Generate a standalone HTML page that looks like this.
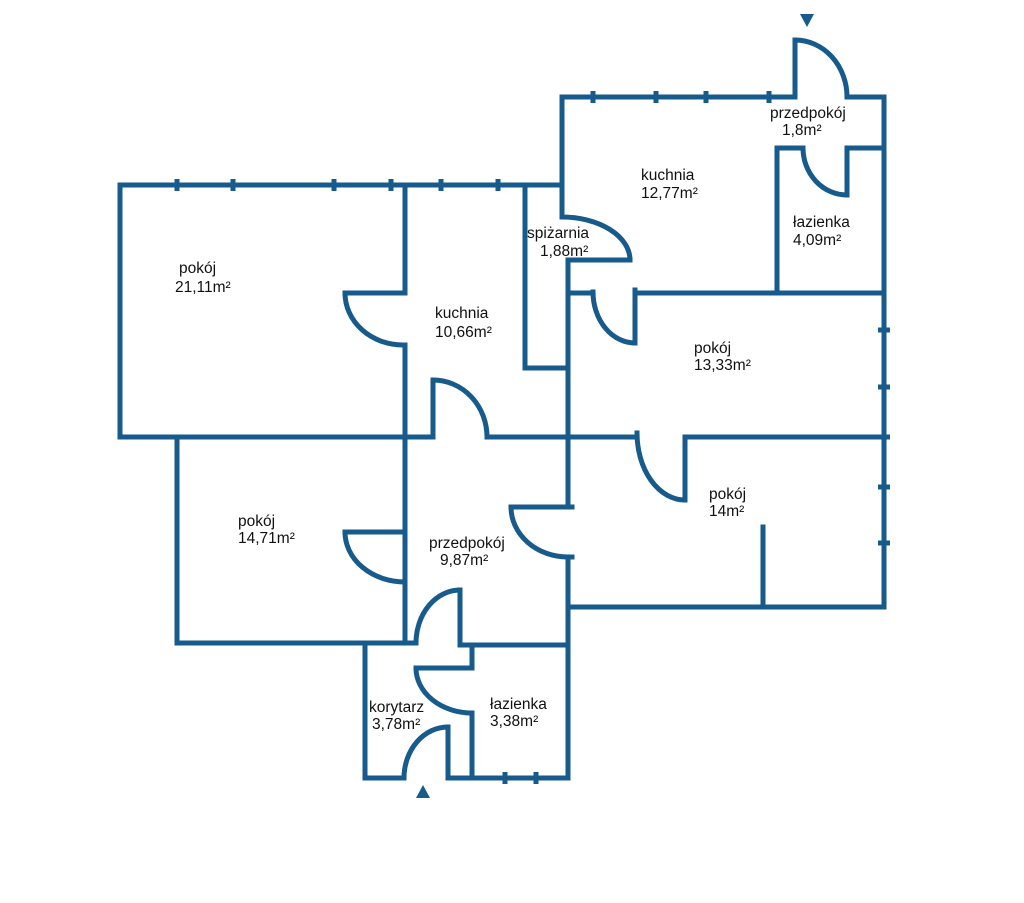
<!DOCTYPE html>
<html><head><meta charset="utf-8"><style>
html,body{margin:0;padding:0;background:#fff;}
svg{display:block}
text{font-family:"Liberation Sans",sans-serif;font-size:15.5px;fill:#111}
</style></head><body>
<svg width="1024" height="903" viewBox="0 0 1024 903" xmlns="http://www.w3.org/2000/svg">
<g fill="none" stroke="#175a8c" stroke-width="5" stroke-linecap="square">
<polyline points="405,292 405,185 120,185 120,437 433,437"/>
<line x1="405" y1="185" x2="560" y2="185"/>
<line x1="405" y1="345" x2="405" y2="643"/>
<line x1="345" y1="293" x2="405" y2="293"/>
<path d="M345,293 A58,52 0 0 0 403,345"/>
<polyline points="525,185 525,368 568,368"/>
<polyline points="562,217 562,97 795,97 795,40"/>
<path d="M795,40 A52,57 0 0 1 847,97"/>
<polyline points="847,97 884,97 884,607 568,607"/>
<path d="M562,217 A68,43 0 0 1 630,260"/>
<line x1="630" y1="260" x2="568" y2="260"/>
<line x1="568" y1="260" x2="568" y2="507"/>
<line x1="568" y1="557" x2="568" y2="778"/>
<polyline points="803,148 777,148 777,293"/>
<line x1="847" y1="148" x2="884" y2="148"/>
<line x1="847" y1="148" x2="847" y2="195"/>
<path d="M803,148 A44,47 0 0 0 847,195"/>
<line x1="568" y1="293" x2="593" y2="293"/>
<path d="M593,292 A42,51 0 0 0 635,343"/>
<line x1="635" y1="343" x2="635" y2="290"/>
<line x1="635" y1="293" x2="884" y2="293"/>
<line x1="433" y1="437" x2="433" y2="380"/>
<path d="M433,380 A54,57 0 0 1 487,437"/>
<line x1="487" y1="437" x2="637" y2="437"/>
<path d="M637,433 A48,67 0 0 0 685,500"/>
<line x1="685" y1="500" x2="685" y2="437"/>
<line x1="685" y1="437" x2="884" y2="437"/>
<line x1="511" y1="507" x2="572" y2="507"/>
<path d="M511,507 A57,50 0 0 0 568,557"/>
<line x1="568" y1="557" x2="572" y2="557"/>
<line x1="763" y1="527" x2="763" y2="607"/>
<polyline points="177,437 177,643 416,643"/>
<line x1="345" y1="532" x2="405" y2="532"/>
<path d="M345,532 A60,50 0 0 0 405,582"/>
<line x1="460" y1="590" x2="460" y2="643"/>
<path d="M416,643 A44,53 0 0 1 460,590"/>
<line x1="460" y1="645" x2="568" y2="645"/>
<polyline points="365,645 365,778 404,778"/>
<path d="M404,778 A44,51 0 0 1 448,727"/>
<line x1="448" y1="727" x2="448" y2="778"/>
<line x1="448" y1="778" x2="568" y2="778"/>
<line x1="472" y1="645" x2="472" y2="668"/>
<line x1="416" y1="668" x2="472" y2="668"/>
<path d="M416,668 A56,45 0 0 0 472,713"/>
<line x1="472" y1="713" x2="472" y2="778"/>
</g>
<g stroke="#175a8c" stroke-width="5">
<line x1="177" y1="179" x2="177" y2="191"/><line x1="233" y1="179" x2="233" y2="191"/>
<line x1="334" y1="179" x2="334" y2="191"/><line x1="391" y1="179" x2="391" y2="191"/>
<line x1="441" y1="179" x2="441" y2="191"/><line x1="498" y1="179" x2="498" y2="191"/>
<line x1="593" y1="91" x2="593" y2="103"/><line x1="656" y1="91" x2="656" y2="103"/>
<line x1="706" y1="91" x2="706" y2="103"/><line x1="769" y1="91" x2="769" y2="103"/>
<line x1="878" y1="330" x2="890" y2="330"/><line x1="878" y1="387" x2="890" y2="387"/>
<line x1="878" y1="437" x2="890" y2="437"/>
<line x1="878" y1="487" x2="890" y2="487"/><line x1="878" y1="543" x2="890" y2="543"/>
<line x1="505" y1="772" x2="505" y2="784"/><line x1="536" y1="772" x2="536" y2="784"/>
</g>
<polygon points="800,14 814,14 807,27" fill="#175a8c"/>
<polygon points="416,798 430,798 423,785" fill="#175a8c"/>
<g>
<text x="179" y="273">pokój</text><text x="175" y="292">21,11m²</text>
<text x="435" y="318">kuchnia</text><text x="435" y="337">10,66m²</text>
<text x="527" y="238">spiżarnia</text><text x="540" y="256">1,88m²</text>
<text x="641" y="180">kuchnia</text><text x="641" y="198">12,77m²</text>
<text x="770" y="118">przedpokój</text><text x="782" y="135">1,8m²</text>
<text x="793" y="227">łazienka</text><text x="793" y="245">4,09m²</text>
<text x="694" y="353">pokój</text><text x="694" y="370">13,33m²</text>
<text x="709" y="499">pokój</text><text x="709" y="516">14m²</text>
<text x="238" y="526">pokój</text><text x="238" y="543">14,71m²</text>
<text x="429" y="548">przedpokój</text><text x="440" y="565">9,87m²</text>
<text x="369" y="712">korytarz</text><text x="372" y="729">3,78m²</text>
<text x="490" y="709">łazienka</text><text x="490" y="726">3,38m²</text>
</g>
</svg>
</body></html>
